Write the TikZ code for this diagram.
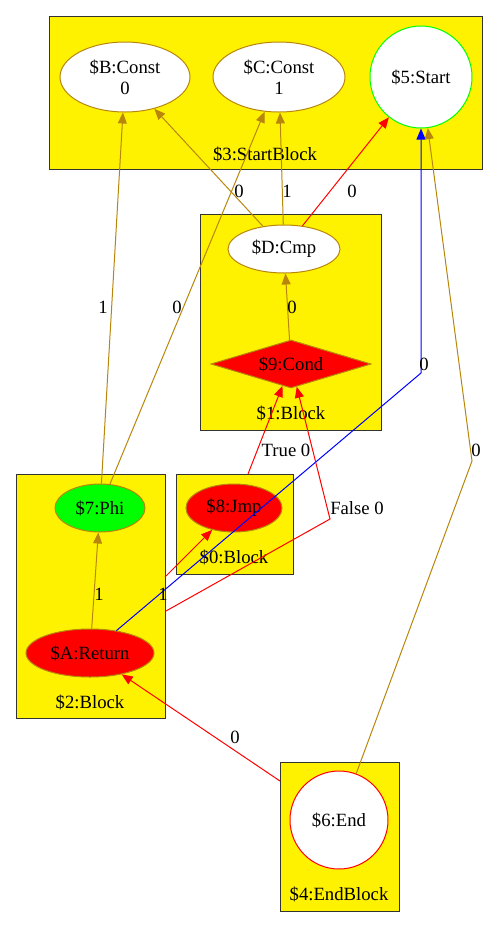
\documentclass[tikz,border=0pt]{standalone}
\usepackage{fontspec}
\setmainfont{Liberation Serif}
\newfontfamily\gvfont{Liberation Serif}
\usetikzlibrary{shapes.geometric,arrows.meta}
\definecolor{gold}{RGB}{184,134,11}

\begin{document}
\begin{tikzpicture}[x=1pt,y=-1pt,line width=1pt,
  every node/.style={font=\gvfont\fontsize{18.7}{21}\selectfont,inner sep=0pt},
  blk/.style={draw=black!80,fill=yellow},
  op/.style={ellipse,draw=gold,fill=white,align=center,minimum height=48},
  dep/.style={gold,-{Triangle[length=11pt,width=9pt]}},
  cf/.style={red,-{Triangle[length=11pt,width=9pt]}},
  mem/.style={blue,-{Triangle[length=11pt,width=9pt]}}]
  \useasboundingbox (0,0) rectangle (499,927);
  % blocks
  \draw[blk] (49,16) rectangle (482,169);
  \draw[blk] (200,214) rectangle (381,430);
  \draw[blk] (16,474) rectangle (165,718);
  \draw[blk] (176,474) rectangle (293,574);
  \draw[blk] (280,762) rectangle (399,911);
  \node (n3) at (265,154) {\$3:StartBlock};
  \node (n1) at (291,413) {\$1:Block};
  \node (n2) at (90,702) {\$2:Block};
  \node (n0) at (234,557) {\$0:Block};
  \node (n4) at (339,894) {\$4:EndBlock};
  % nodes
  \node[op,minimum width=130,minimum height=70] (b) at (125,77) {\$B:Const\\0};
  \node[op,minimum width=132,minimum height=70] (c) at (279,77) {\$C:Const\\1};
  \node[circle,draw=green,fill=white,minimum size=102] (start) at (421,77) {\$5:Start};
  \node[op,minimum width=112] (d) at (284,249) {\$D:Cmp};
  \node[diamond,aspect=3.33,draw=gold,fill=red,minimum width=160,minimum height=48] (cond) at (291,364) {\$9:Cond};
  \node[op,fill=green,minimum width=90] (phi) at (100,508) {\$7:Phi};
  \node[op,fill=red,minimum width=128] (ret) at (90,653) {\$A:Return};
  \node[op,fill=red,minimum width=96] (jmp) at (234,508) {\$8:Jmp};
  \node[circle,draw=red,fill=white,minimum size=98] (end) at (339,820) {\$6:End};
  % edges
  \coordinate (p2) at (165,577);
  \coordinate (q2) at (166,611);
  \coordinate (q2b) at (330,519);
  \coordinate (p0) at (248,474);
  \coordinate (p4) at (280,781);
  \coordinate (mb) at (421,373);
  \coordinate (eb) at (472,461);
  \draw[dep] (d) -- (b);
  \draw[dep] (d) -- (c);
  \draw[cf] (d) -- (start);
  \draw[dep] (cond) -- (d);
  \draw[dep] (phi) -- (b);
  \draw[dep] (phi) -- (c);
  \draw[dep] (ret) -- (phi);
  \draw[mem] (ret) -- (mb) -- (start);
  \draw[dep] (end) -- (eb) -- (start);
  \draw[cf] (p2) -- (jmp);
  \draw[cf] (p0) -- (cond);
  \draw[cf] (q2) -- (q2b) -- (cond);
  \draw[cf] (p4) -- (ret);
  % labels
  \node (l1) at (239,191) {0};
  \node (l2) at (287,191) {1};
  \node (l3) at (352,191) {0};
  \node (l4) at (292,307) {0};
  \node (l5) at (103,307) {1};
  \node (l6) at (177,307) {0};
  \node (l7) at (424,364) {0};
  \node (l8) at (286,450) {True 0};
  \node (l9) at (476,450) {0};
  \node (l10) at (357,508) {False 0};
  \node (l11) at (99,594) {1};
  \node (l12) at (163,594) {1};
  \node (l13) at (235,737) {0};
\end{tikzpicture}
\end{document}
